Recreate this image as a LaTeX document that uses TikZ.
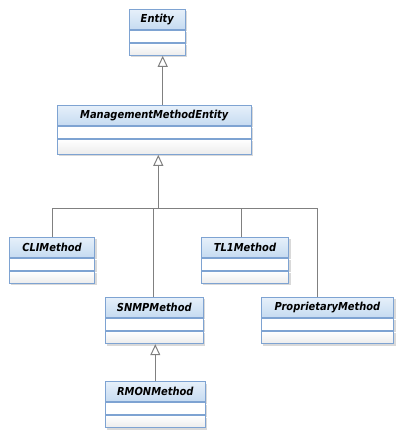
\documentclass[tikz,border=0pt]{standalone}
\usepackage{fontspec}
\newfontfamily\umlfont{DejaVu Sans Condensed}
\usetikzlibrary{positioning,arrows.meta,shadows}

\definecolor{umlborder}{HTML}{7EA3D2}
\definecolor{umltop}{HTML}{E6F0FA}
\definecolor{umlbottom}{HTML}{C6DBF1}
\definecolor{umlops}{HTML}{ECECEC}
\definecolor{umlline}{HTML}{808080}

\begin{document}
\begin{tikzpicture}[
  x=1pt, y=-1pt,
  umlshadow/.style={drop shadow={shadow xshift=2pt, shadow yshift=-2pt, fill=black!15, opacity=1}},
  classname/.style={rectangle, draw=umlborder, line width=1pt, minimum height=20pt, inner sep=0pt,
    top color=umltop, bottom color=umlbottom, font=\umlfont\fontsize{11}{13}\selectfont\bfseries\itshape, umlshadow},
  attrbox/.style={rectangle, draw=umlborder, line width=1pt, minimum height=12pt, inner sep=0pt, fill=white, umlshadow},
  opsbox/.style={rectangle, draw=umlborder, line width=1pt, minimum height=12pt, inner sep=0pt,
    top color=white, bottom color=umlops, umlshadow},
  inherit/.style={-{Triangle[open, width=10pt, length=11pt, fill=white]}, draw=umlline, line width=1pt},
  link/.style={draw=umlline, line width=1pt}
]
\useasboundingbox (0,0) rectangle (407,440);

% Basisklasse
\node[classname, minimum width=56pt] (entity) at (157.3,19.3) {Entity};
\node[attrbox, minimum width=56pt, below=0pt of entity] (entity-attr) {};
\node[opsbox, minimum width=56pt, below=0pt of entity-attr] (entity-ops) {};

\node[classname, minimum width=194pt] (mme) at (154.3,115.3) {ManagementMethodEntity};
\node[attrbox, minimum width=194pt, below=0pt of mme] (mme-attr) {};
\node[opsbox, minimum width=194pt, minimum height=15pt, below=0pt of mme-attr] (mme-ops) {};

% Abgeleitete Klassen
\node[classname, minimum width=85.4pt] (cli) at (52,247.3) {CLIMethod};
\node[attrbox, minimum width=85.4pt, below=0pt of cli] (cli-attr) {};
\node[opsbox, minimum width=85.4pt, below=0pt of cli-attr] (cli-ops) {};

\node[classname, minimum width=87.4pt] (tl1) at (245,247.3) {TL1Method};
\node[attrbox, minimum width=87.4pt, below=0pt of tl1] (tl1-attr) {};
\node[opsbox, minimum width=87.4pt, below=0pt of tl1-attr] (tl1-ops) {};

\node[classname, minimum width=98pt] (snmp) at (154.3,307.3) {SNMPMethod};
\node[attrbox, minimum width=98pt, below=0pt of snmp] (snmp-attr) {};
\node[opsbox, minimum width=98pt, minimum height=12.4pt, below=0pt of snmp-attr] (snmp-ops) {};

\node[classname, minimum width=132.4pt] (prop) at (327.5,307.3) {ProprietaryMethod};
\node[attrbox, minimum width=132.4pt, below=0pt of prop] (prop-attr) {};
\node[opsbox, minimum width=132.4pt, minimum height=12.4pt, below=0pt of prop-attr] (prop-ops) {};

\node[classname, minimum width=100pt] (rmon) at (155.3,391.7) {RMONMethod};
\node[attrbox, minimum width=100pt, below=0pt of rmon] (rmon-attr) {};
\node[opsbox, minimum width=100pt, below=0pt of rmon-attr] (rmon-ops) {};

% Vererbung
\draw[inherit] ([xshift=8.4pt]mme.north) -- ([xshift=8.4pt]mme.north |- entity-ops.south);

\coordinate (bus) at (158.3,208.3);
\draw[link] ([xshift=0.3pt]cli.north) |- (bus) -| ([xshift=-10.2pt]prop.north);
\draw[link] ([xshift=-1pt]snmp.north) -- ([xshift=-1pt]snmp.north |- bus);
\draw[link] ([xshift=-3.7pt]tl1.north) -- ([xshift=-3.7pt]tl1.north |- bus);
\draw[inherit] (bus) -- (bus |- mme-ops.south);

\draw[inherit] (rmon.north) -- (rmon.north |- snmp-ops.south);

\end{tikzpicture}
\end{document}
